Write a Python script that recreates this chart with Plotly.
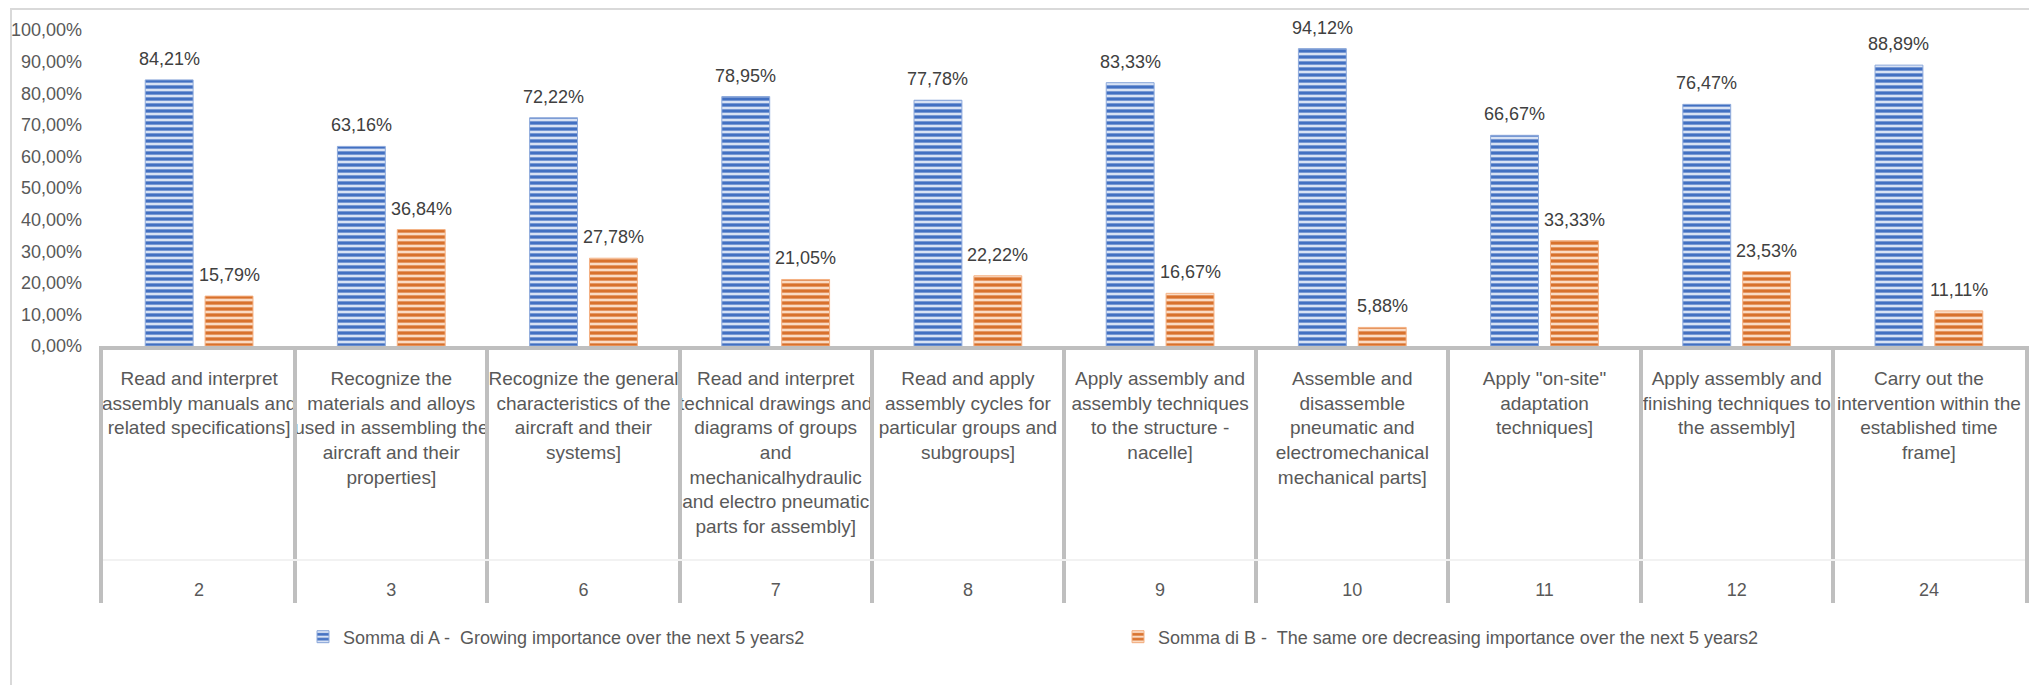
import plotly.graph_objects as go

# Skill codes (bottom row of the category table) and skill descriptions
codes = ["2", "3", "6", "7", "8", "9", "10", "11", "12", "24"]
skills = [
    "Read and interpret\nassembly manuals and\nrelated specifications]",
    "Recognize the\nmaterials and alloys\nused in assembling the\naircraft and their\nproperties]",
    "Recognize the general\ncharacteristics of the\naircraft and their\nsystems]",
    "Read and interpret\ntechnical drawings and\ndiagrams of groups\nand\nmechanicalhydraulic\nand electro pneumatic\nparts for assembly]",
    "Read and apply\nassembly cycles for\nparticular groups and\nsubgroups]",
    "Apply assembly and\nassembly techniques\nto the structure -\nnacelle]",
    "Assemble and\ndisassemble\npneumatic and\nelectromechanical\nmechanical parts]",
    "Apply \"on-site\"\nadaptation\ntechniques]",
    "Apply assembly and\nfinishing techniques to\nthe assembly]",
    "Carry out the\nintervention within the\nestablished time\nframe]",
]

# Shares of answers (%)
growing = [84.21, 63.16, 72.22, 78.95, 77.78, 83.33, 94.12, 66.67, 76.47, 88.89]
same_or_decreasing = [15.79, 36.84, 27.78, 21.05, 22.22, 16.67, 5.88, 33.33, 23.53, 11.11]

name_a = "Somma di A -  Growing importance over the next 5 years2"
name_b = "Somma di B -  The same ore decreasing importance over the next 5 years2"

y_ticks = [0, 10, 20, 30, 40, 50, 60, 70, 80, 90, 100]


def pct(v):
    return f"{v:.2f}%".replace(".", ",")


# ---- layout geometry (pixels) ----
W, H = 2029, 685
ML, MR, MT, MB = 103, 4, 30, 82
PW, PH = W - ML - MR, H - MT - MB
BASE_PX = 346            # bar baseline / top of the category table
ROW_RULE_PX = 560        # faint rule above the code row
BARGAP = 0.377
BARGROUPGAP = 0.2

FONT = "'Liberation Sans', Arial, sans-serif"
FS = 18
FS_CAT = 19
TXT = "#595959"
LBL = "#404040"
GRID = "#bfbfbf"


def px_x(px):
    return (px - ML) / PW


def px_y(py):
    return (H - MB - py) / PH


bars_bottom = px_y(BASE_PX)
n = len(codes)
cat_labels = [s.replace("\n", "<br>") for s in skills]

fig = go.Figure()
fig.add_trace(go.Bar(
    x=cat_labels, y=growing, name=name_a,
    marker=dict(
        color="#d5dff2",
        line=dict(color="#8eaadb", width=1),
        pattern=dict(shape="-", fgcolor="#4270c2", bgcolor="#d8e2f4",
                     size=6, solidity=0.55, fillmode="replace"),
    ),
    hoverinfo="skip",
))
fig.add_trace(go.Bar(
    x=cat_labels, y=same_or_decreasing, name=name_b,
    marker=dict(
        color="#f9d8c0",
        line=dict(color="#f4b183", width=1),
        pattern=dict(shape="-", fgcolor="#d8712c", bgcolor="#fadbc4",
                     size=6, solidity=0.55, fillmode="replace"),
    ),
    hoverinfo="skip",
))
# empty trace so the table subplot (x2/y2) is created
fig.add_trace(go.Scatter(x=[], y=[], xaxis="x2", yaxis="y2",
                         showlegend=False, hoverinfo="skip"))

# Value labels above each bar
cat_px = PW / n
slot_px = cat_px * (1 - BARGAP) / 2
annotations = []
for series, sign in ((growing, -1), (same_or_decreasing, 1)):
    for i, v in enumerate(series):
        annotations.append(dict(
            x=i, y=v, xref="x", yref="y",
            text=pct(v),
            showarrow=False, xanchor="center", yanchor="bottom",
            xshift=sign * slot_px / 2, yshift=9,
            font=dict(family=FONT, size=FS, color=LBL),
        ))

shapes = [
    # chart frame
    dict(type="rect", xref="paper", yref="paper",
         x0=px_x(11), x1=px_x(W + 5), y0=px_y(H + 5), y1=px_y(9),
         line=dict(color="#d9d9d9", width=2), fillcolor="rgba(0,0,0,0)", layer="below"),
]

fig.update_layout(
    width=W, height=H, autosize=False,
    margin=dict(l=ML, r=MR, t=MT, b=MB, pad=0, autoexpand=False),
    paper_bgcolor="white", plot_bgcolor="white",
    barmode="group", bargap=BARGAP, bargroupgap=BARGROUPGAP,
    separators=",.",
    font=dict(family=FONT, size=FS, color=TXT),
    showlegend=True,
    legend=dict(
        orientation="h", x=px_x(303), xanchor="left", y=px_y(637), yanchor="middle",
        entrywidth=770, entrywidthmode="pixels",
        font=dict(family=FONT, size=FS, color=TXT),
        bgcolor="rgba(0,0,0,0)", itemclick=False, itemdoubleclick=False,
    ),
    annotations=annotations,
    shapes=shapes,
    # bars
    xaxis=dict(
        type="category", tickangle=0, anchor="y", automargin=False,
        showline=True, linecolor=GRID, linewidth=4,
        showgrid=False, ticks="", ticklabelstandoff=12,
        tickfont=dict(family=FONT, size=FS_CAT, color=TXT),
    ),
    yaxis=dict(
        domain=[bars_bottom, 1], anchor="x", automargin=False,
        range=[0, 100], tickvals=y_ticks, ticktext=[pct(v) for v in y_ticks],
        showgrid=False, zeroline=False, showline=False, ticks="",
        ticklabelstandoff=20,
        tickfont=dict(family=FONT, size=FS, color=TXT),
    ),
    # category table: column dividers and the code row
    xaxis2=dict(
        anchor="y2", type="linear", range=[-0.5, n - 0.5], automargin=False,
        tickvals=list(range(n)), ticktext=codes,
        ticklabelposition="inside", ticks="",
        showgrid=False, zeroline=False, showline=False,
        tickfont=dict(family=FONT, size=FS, color=TXT),
        minor=dict(tickmode="linear", tick0=-0.5, dtick=1, showgrid=True,
                   gridcolor=GRID, gridwidth=4, ticks=""),
    ),
    yaxis2=dict(
        domain=[0, bars_bottom], anchor="x2", range=[0, 1], automargin=False,
        tickvals=[px_y(ROW_RULE_PX) / bars_bottom], showticklabels=False,
        showgrid=True, gridcolor="#f2f2f2", gridwidth=2,
        zeroline=False, ticks="",
        showline=True, mirror=True, linecolor=GRID, linewidth=4,
    ),
)

fig.write_html("out.html")
